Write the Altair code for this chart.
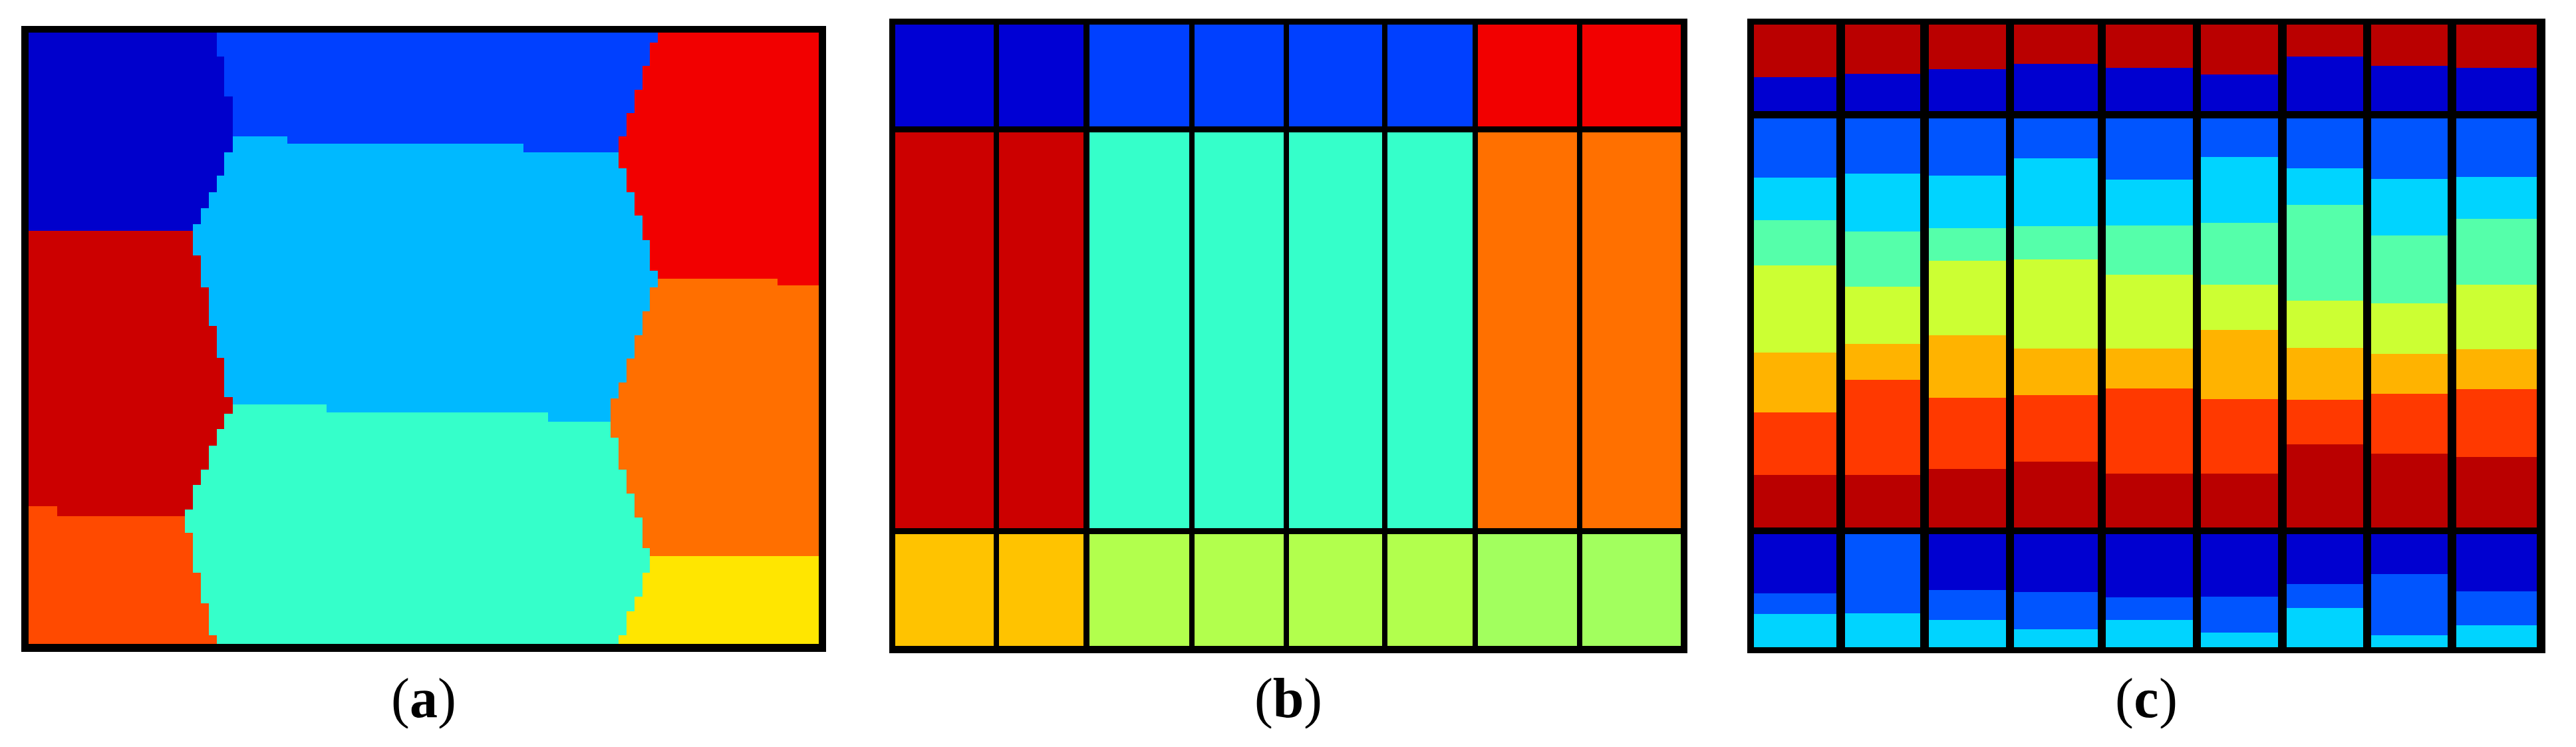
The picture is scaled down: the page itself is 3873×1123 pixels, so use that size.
import altair as alt
import pandas as pd

FONT = "Liberation Serif"

COLORS = {
    "frame": "#000000",
    # panel (a)
    "a_darkblue": "#0000CC", "a_blue": "#0040FF", "a_red": "#F20000",
    "a_lightblue": "#00B9FF", "a_darkred": "#CC0000", "a_orange": "#FF6F00",
    "a_orangered": "#FF4A00", "a_aqua": "#35FFCA", "a_yellow": "#FFE600",
    # panel (b)
    "b_darkblue": "#0000D4", "b_blue": "#0040FF", "b_red": "#F20000",
    "b_darkred": "#CC0000", "b_aqua": "#35FFCA", "b_orange": "#FF7000",
    "b_gold": "#FFC300", "b_lime": "#B2FF4D", "b_green": "#A2FF5E",
    # panel (c)
    "c_darkred": "#BA0000", "c_darkblue": "#0000D0", "c_blue": "#0055FF",
    "c_cyan": "#00D4FF", "c_aqua": "#55FFAA", "c_yg": "#CCFF33",
    "c_orange": "#FFB300", "c_redorange": "#FF3900",
}

# ---------------- panel (a): stepped partition ----------------
A_FRAME = (1210, 941)
A_INNER = (11, 1199, 10, 929)
# middle column: x breakpoints and the two horizontal cuts per x segment
A_MID_X = [11, 400, 459, 755, 792, 1199]
A_CUT1 = [166, 177, 177, 190, 190]      # blue | light blue
A_CUT2 = [569, 569, 581, 581, 595]      # light blue | aqua
# left column: strip y breakpoints, boundary x, region
A_LEFT_Y = [10, 46, 106, 190, 225, 250, 274, 298, 308, 345, 393, 451, 499,
            558, 583, 606, 631, 667, 690, 727, 737, 762, 822, 868, 916, 929]
A_LEFT_X = [294, 305, 318, 305, 294, 282, 270, 258, 258, 270, 282, 294, 305,
            318, 305, 294, 282, 270, 258, 246, 246, 258, 270, 282, 294]
A_LEFT_R = ["darkblue"] * 8 + ["darkred"] * 12 + ["orangered"] * 5
# right column
A_RIGHT_Y = [10, 25, 60, 96, 131, 166, 214, 250, 285, 322, 368, 380, 393, 429,
             465, 500, 536, 560, 619, 667, 703, 739, 785, 797, 822, 858, 880, 916, 929]
A_RIGHT_X = [957, 945, 934, 922, 910, 898, 910, 922, 934, 945, 957, 957, 945, 934,
             922, 910, 898, 886, 898, 910, 922, 934, 945, 945, 934, 922, 910, 898]
A_RIGHT_R = ["red"] * 11 + ["orange"] * 12 + ["yellow"] * 5
# small notches: region, x0, x1, y0, y1
A_PATCHES = [("orangered", 11, 54, 722, 737), ("red", 1137, 1199, 380, 390)]

# ---------------- panel (b): regular grid ----------------
B_FRAME = (1200, 954)
B_COLS = [(9, 157), (165, 292), (301, 451), (459, 593), (601, 741), (749, 877),
          (885, 1034), (1042, 1190)]
B_ROWS = [(9, 162), (171, 766), (775, 943)]
B_REGIONS = [
    ["darkblue"] * 2 + ["blue"] * 4 + ["red"] * 2,
    ["darkred"] * 2 + ["aqua"] * 4 + ["orange"] * 2,
    ["gold"] * 2 + ["lime"] * 4 + ["green"] * 2,
]

# ---------------- panel (c): columns of stacked bands ----------------
C_FRAME = (1200, 954)
C_COLS = [(10, 134), (147, 260), (273, 389), (401, 527), (539, 670), (682, 798),
          (811, 926), (938, 1053), (1066, 1187)]
C_ROWS = [(9, 139), (150, 765), (775, 945)]
C_TOP_R = ["darkred", "darkblue"]
C_MID_R = ["blue", "cyan", "aqua", "yg", "orange", "redorange", "darkred"]
C_BOT_R = ["darkblue", "blue", "cyan"]
C_TOP_CUTS = [[88], [83], [76], [68], [74], [84], [57], [71], [74]]
C_MID_CUTS = [
    [239, 303, 371, 502, 592, 686],
    [233, 320, 403, 489, 543, 686],
    [236, 315, 364, 476, 570, 677],
    [210, 312, 362, 496, 566, 666],
    [242, 311, 385, 496, 556, 684],
    [208, 307, 400, 468, 572, 684],
    [225, 280, 424, 495, 573, 640],
    [241, 326, 428, 504, 564, 654],
    [238, 301, 400, 497, 557, 659],
]
C_BOT_CUTS = [[864, 895], [775, 894], [859, 904], [862, 918], [870, 904],
              [869, 923], [850, 886], [835, 927], [861, 912]]

LABELS = [("a", 21), ("b", 23), ("c", 19)]
PLOT_H = 954


def rect(rows, region, x0, x1, y0, y1):
    if x1 > x0 and y1 > y0:
        rows.append({"region": region, "x0": x0, "x1": x1, "y0": y0, "y1": y1})


def build_a():
    rows = []
    W, H = A_FRAME
    rect(rows, "frame", 0, W, 0, H)
    ix0, ix1, iy0, iy1 = A_INNER
    for i in range(len(A_MID_X) - 1):
        xa, xb = A_MID_X[i], A_MID_X[i + 1]
        rect(rows, "a_blue", xa, xb, iy0, A_CUT1[i])
        rect(rows, "a_lightblue", xa, xb, A_CUT1[i], A_CUT2[i])
        rect(rows, "a_aqua", xa, xb, A_CUT2[i], iy1)
    for i, r in enumerate(A_LEFT_R):
        rect(rows, "a_" + r, ix0, A_LEFT_X[i], A_LEFT_Y[i], A_LEFT_Y[i + 1])
    for i, r in enumerate(A_RIGHT_R):
        rect(rows, "a_" + r, A_RIGHT_X[i], ix1, A_RIGHT_Y[i], A_RIGHT_Y[i + 1])
    for r, x0, x1, y0, y1 in A_PATCHES:
        rect(rows, "a_" + r, x0, x1, y0, y1)
    return pd.DataFrame(rows)


def build_b():
    rows = []
    W, H = B_FRAME
    rect(rows, "frame", 0, W, 0, H)
    for ri, (y0, y1) in enumerate(B_ROWS):
        for ci, (x0, x1) in enumerate(B_COLS):
            rect(rows, "b_" + B_REGIONS[ri][ci], x0, x1, y0, y1)
    return pd.DataFrame(rows)


def build_c():
    rows = []
    W, H = C_FRAME
    rect(rows, "frame", 0, W, 0, H)
    groups = [(C_ROWS[0], C_TOP_R, C_TOP_CUTS), (C_ROWS[1], C_MID_R, C_MID_CUTS),
              (C_ROWS[2], C_BOT_R, C_BOT_CUTS)]
    for ci, (x0, x1) in enumerate(C_COLS):
        for (gy0, gy1), regs, cuts in groups:
            edges = [gy0] + cuts[ci] + [gy1]
            for k, r in enumerate(regs):
                rect(rows, "c_" + r, x0, x1, edges[k], edges[k + 1])
    return pd.DataFrame(rows)


COLOR_SCALE = alt.Scale(domain=list(COLORS.keys()), range=list(COLORS.values()))


def panel(df, width, xdom, ydom, letter, half):
    rects = alt.Chart(df).mark_rect(strokeWidth=0).encode(
        x=alt.X("x0:Q", scale=alt.Scale(domain=xdom, nice=False, zero=False), axis=None),
        x2="x1:Q",
        y=alt.Y("y0:Q", scale=alt.Scale(domain=ydom, nice=False, zero=False, reverse=True), axis=None),
        y2="y1:Q",
        color=alt.Color("region:N", scale=COLOR_SCALE, legend=None),
    )
    base = alt.Chart(pd.DataFrame({"k": [0]}))
    cx = alt.value(xdom[0] * 0 + (width if letter != "a" else A_FRAME[0]) / 2)
    ly = alt.value(1050)
    lp = base.mark_text(text="(", font=FONT, fontSize=84, align="right",
                        baseline="alphabetic", dx=-half).encode(x=cx, y=ly)
    mid = base.mark_text(text=letter, font=FONT, fontSize=84, fontWeight="bold",
                         align="center", baseline="alphabetic").encode(x=cx, y=ly)
    rp = base.mark_text(text=")", font=FONT, fontSize=84, align="left",
                        baseline="alphabetic", dx=half).encode(x=cx, y=ly)
    return alt.layer(rects, lp, mid, rp).properties(width=width, height=PLOT_H)


pa = panel(build_a(), 1215, [0, 1215], [-11, 943], LABELS[0][0], LABELS[0][1])
pb = panel(build_b(), 1200, [0, 1200], [0, 954], LABELS[1][0], LABELS[1][1])
pc = panel(build_c(), 1200, [0, 1200], [0, 954], LABELS[2][0], LABELS[2][1])

chart = (
    alt.hconcat(pa, pb, pc, spacing=90)
    .properties(padding={"left": 24, "top": 20, "right": 0, "bottom": 0})
    .configure_view(stroke=None)
)

chart.save("out.html", embed_options={"renderer": "svg", "actions": False})
